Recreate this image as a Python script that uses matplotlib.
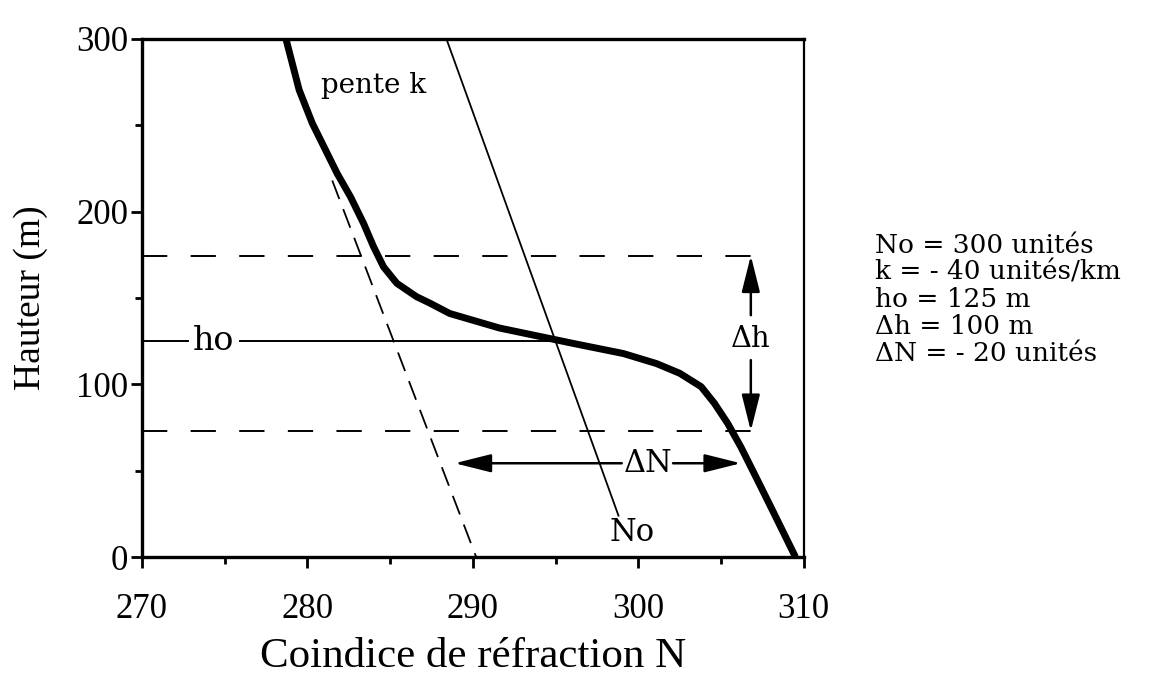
import numpy as np
import matplotlib
matplotlib.use('Agg')
from matplotlib import pyplot as plt

# thick refractivity profile (N, h)
prof_N = [278.7, 279.5, 280.3, 281.2, 281.8, 282.6, 283.4, 284.0, 284.6, 285.4,
          286.6, 287.4, 288.6, 291.6, 294.1, 296.1, 299.1, 301.1, 302.5, 303.8,
          304.6, 305.4, 306.2, 307.2, 308.2, 309.5]
prof_h = [300, 270.4, 251, 233.6, 222, 208.6, 193, 179.6, 168, 158.5,
          150.7, 147, 141, 132.6, 127.6, 123.6, 117.8, 112, 106.4, 98.6,
          89, 77.4, 63.7, 44.6, 25.3, 0]

# thin line "No" and dashed line of slope k
no_N = [288.4, 298.8]
no_h = [300, 24]
k_N = [281.5, 290.2]
k_h = [218, 0]

ho = 125
h_top, h_bot = 174.5, 73
dh_x = 306.8
dn_h = 54.3
params = ['No = 300 unités', 'k = - 40 unités/km', 'ho = 125 m',
          '\u0394h = 100 m', '\u0394N = - 20 unités']

plt.rcParams['font.family'] = ['Liberation Serif', 'DejaVu Serif']
serif2 = ['DejaVu Serif']

fig = plt.figure(figsize=(11.59, 6.81), dpi=100)
ax = fig.add_axes([0.1225, 0.182, 0.571, 0.761])

ax.plot(prof_N, prof_h, color='k', lw=5, solid_joinstyle='round', solid_capstyle='butt')
ax.plot(no_N, no_h, color='k', lw=1.3)
ax.plot(k_N, k_h, color='k', lw=1.3, dashes=(11, 6))

# horizontal dashed lines for ho +/- dh/2
for hh in [h_top, h_bot]:
    ax.plot([270, 307], [hh, hh], color='k', lw=1.4, dashes=(13, 12))

# ho line, broken around its label
ax.plot([270, 272.8], [ho, ho], color='k', lw=1.4)
ax.plot([275.9, 295.0], [ho, ho], color='k', lw=1.4)
ax.text(274.3, ho, 'ho', ha='center', va='center', fontsize=24, family=serif2)

arr = dict(arrowstyle='-|>,head_length=1.4,head_width=0.35', color='k', lw=1.8,
           shrinkA=0, shrinkB=0, mutation_scale=16)
ax.annotate('', xy=(dh_x, h_top), xytext=(dh_x, 140), arrowprops=arr)
ax.annotate('', xy=(dh_x, h_bot), xytext=(dh_x, 114), arrowprops=arr)
ax.text(dh_x, 126, '\u0394h', ha='center', va='center', fontsize=21, family=serif2)

ax.annotate('', xy=(288.9, dn_h), xytext=(299.0, dn_h), arrowprops=arr)
ax.annotate('', xy=(306.2, dn_h), xytext=(302.1, dn_h), arrowprops=arr)
ax.text(300.6, dn_h, '\u0394N', ha='center', va='center', fontsize=22, family=serif2)

ax.text(280.8, 273, 'pente k', ha='left', va='center', fontsize=20, family=serif2)
ax.text(299.6, 14, 'No', ha='center', va='center', fontsize=22, family=serif2)

fig.text(0.755, 0.658, '\n'.join(params), ha='left', va='top', fontsize=19,
         linespacing=1.1, family=serif2)

ax.set_xlim(270, 310)
ax.set_ylim(0, 300)
ax.set_xticks(np.arange(270, 311, 10))
ax.set_xticks(np.arange(275, 310, 10), minor=True)
ax.set_yticks(np.arange(0, 301, 100))
ax.set_yticks(np.arange(50, 300, 100), minor=True)
ax.tick_params(which='major', length=8, width=2, labelsize=25, direction='out', pad=4)
ax.tick_params(which='minor', length=5, width=2, direction='out')
ax.tick_params(axis='x', pad=18)
ax.tick_params(axis='y', pad=2)
for side in ['left', 'bottom', 'top']:
    ax.spines[side].set_linewidth(2.4)
ax.spines['right'].set_linewidth(1.6)

ax.set_xlabel('Coindice de réfraction N', fontsize=31, labelpad=8)
ax.set_ylabel('Hauteur (m)', fontsize=27, labelpad=20)

fig.savefig('out.png', dpi=100)
